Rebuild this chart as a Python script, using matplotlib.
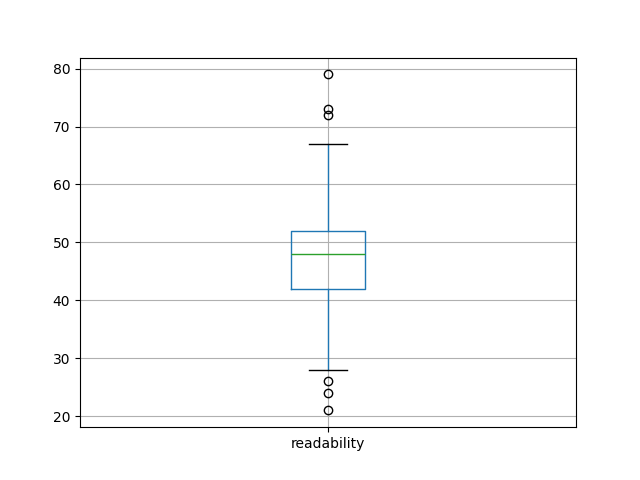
import matplotlib
matplotlib.use("Agg")
import matplotlib.pyplot as plt

# values
labels = ["readability"]
q1 = [42]
median = [48]
q3 = [52]
whisker_low = [28]
whisker_high = [67]
outliers = [[21, 24, 26, 72, 73, 79]]

stats = []
for i in range(len(labels)):
    stats.append({
        "label": labels[i],
        "q1": q1[i],
        "med": median[i],
        "q3": q3[i],
        "whislo": whisker_low[i],
        "whishi": whisker_high[i],
        "fliers": outliers[i],
    })

fig, ax = plt.subplots(figsize=(6.4, 4.8), dpi=100)
ax.bxp(stats,
       boxprops=dict(color="C0"),
       whiskerprops=dict(color="C0"),
       medianprops=dict(color="C2"),
       capprops=dict(color="k"))
ax.grid(True)
ax.set_axisbelow(True)

fig.savefig("out.png")
